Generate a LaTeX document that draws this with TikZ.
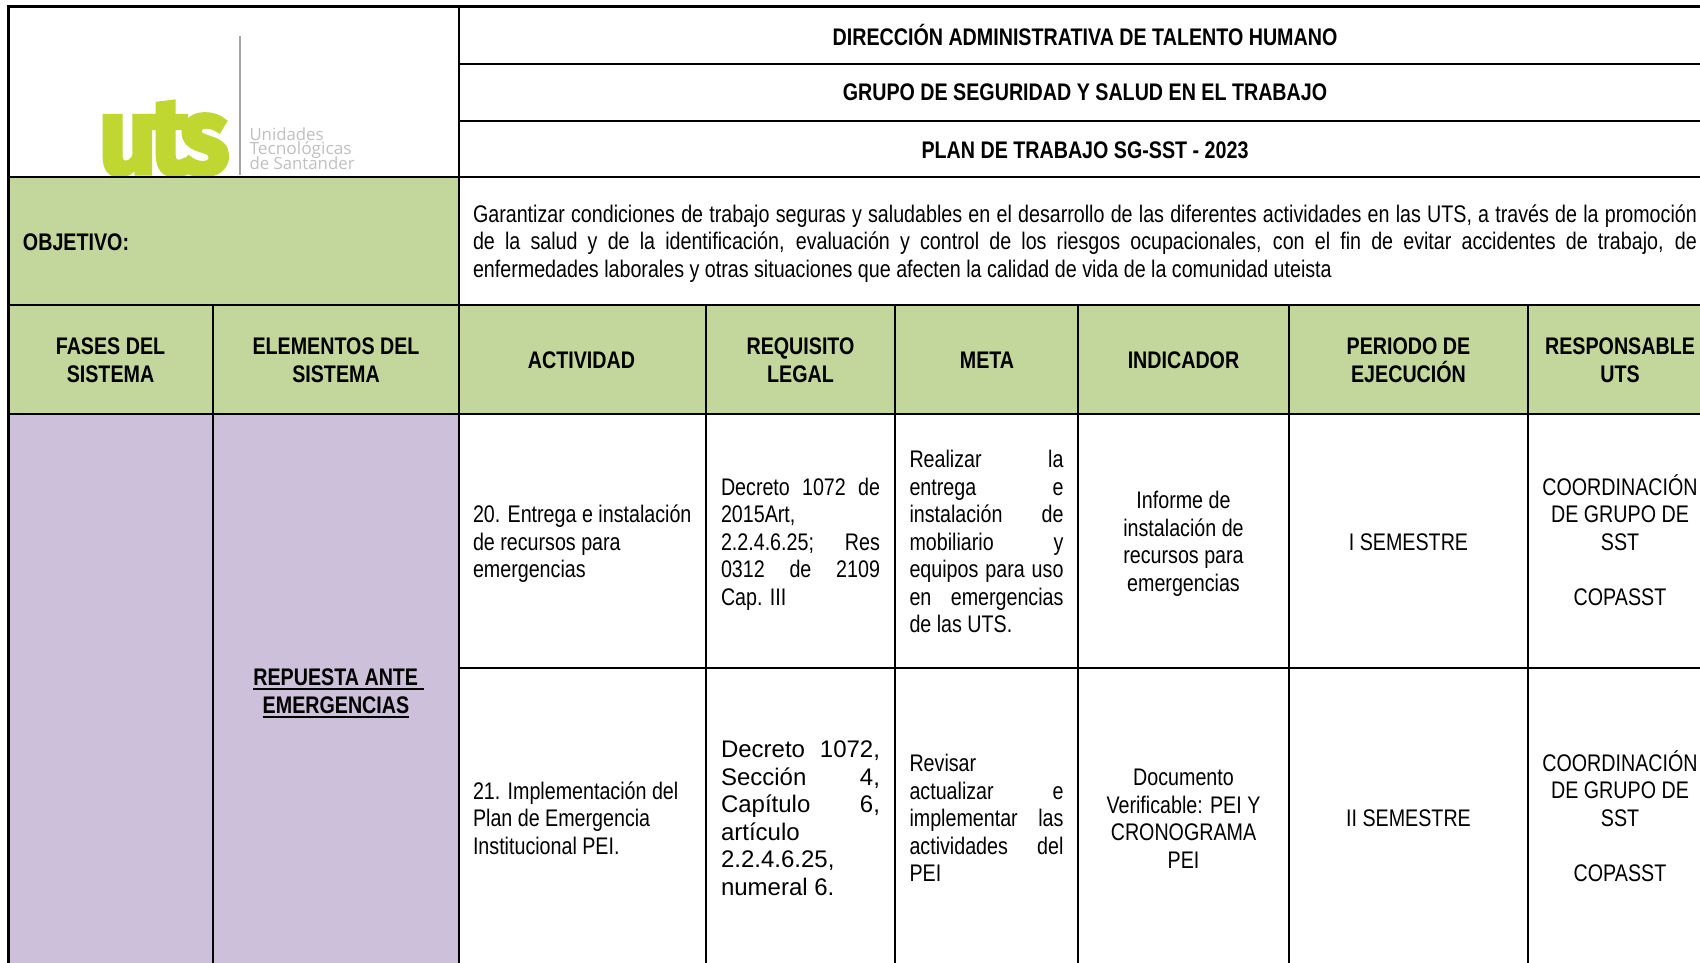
\documentclass[tikz,border=0pt]{standalone}
\usepackage{fontspec}
\setmainfont{Liberation Sans}[FakeStretch=0.82]
\newfontfamily\widef{Liberation Sans}
\newfontfamily\logof{Open Sans}
\newfontfamily\utsf{Fira Sans}[FakeBold=4]
\definecolor{hdrgreen}{HTML}{C3D69B}
\definecolor{lilac}{HTML}{CCC0DA}
\definecolor{utsgreen}{HTML}{BFD730}
\definecolor{logogray}{HTML}{C0C0C0}
\newlength{\jw}
\newcommand{\jl}[1]{\makebox[\jw][s]{#1}}
\newcommand{\ulx}[1]{\sbox0{#1}\rlap{\rule[-4.5pt]{\wd0}{2pt}}\box0}
\tikzset{
  base/.style={inner sep=0pt,outer sep=0pt,font=\fontsize{24}{27.5}\selectfont},
  cc/.style={base,align=center,anchor=center},
  ll/.style={base,align=left,anchor=west},
  hh/.style={base,align=center,anchor=center,font=\fontsize{24}{27.5}\selectfont\bfseries},
  logoname/.style={base,anchor=west,text=logogray,font=\fontsize{16.8}{14.5}\logof},
  rule/.style={line width=2pt,black,line cap=butt}
}
\begin{document}
\begin{tikzpicture}[x=1pt,y=-1pt]
\useasboundingbox (0,0) rectangle (1700,963);
\fill[white] (0,0) rectangle (1700,963);
% fills
\fill[hdrgreen] (9,177) rectangle (459,305);
\fill[hdrgreen] (9,305) rectangle (1700,414);
\fill[lilac] (9,414) rectangle (459,963);
% logo
\fill[logogray!85!black] (238.7,36) rectangle (240.5,175);
\node[base,anchor=base west,text=utsgreen,font=\fontsize{108}{108}\utsf\bfseries,xscale=0.93] (utsmark) at (99,173.5) {u\kern-7pt t\kern-9pt s};
\node[logoname] (uname1) at (249.5,134.5) {Unidades};
\node[logoname,xscale=1.03] (uname2) at (249.5,149.7) {Tecnológicas};
\node[logoname] (uname3) at (249.5,163.5) {de Santander};
% titles
\node[hh] (t1) at (1085,34.5) {DIRECCIÓN ADMINISTRATIVA DE TALENTO HUMANO};
\node[hh] (t2) at (1085,92.5) {GRUPO DE SEGURIDAD Y SALUD EN EL TRABAJO};
\node[hh] (t3) at (1085,150) {PLAN DE TRABAJO SG-SST - 2023};
\node[hh,anchor=west] (obj) at (23,242) {OBJETIVO:};
\setlength{\jw}{1224pt}
\node[ll] (objtext) at (473,243.5) {\jl{Garantizar condiciones de trabajo seguras y saludables en el desarrollo de las diferentes actividades en las UTS, a través de la promoción}\\
\jl{de la salud y de la identificación, evaluación y control de los riesgos ocupacionales, con el fin de evitar accidentes de trabajo, de}\\
enfermedades laborales y otras situaciones que afecten la calidad de vida de la comunidad uteista};
% header row
\node[hh] (h1) at (110.5,360) {FASES DEL\\SISTEMA};
\node[hh] (h2) at (336,360) {ELEMENTOS DEL\\SISTEMA};
\node[hh] (h3) at (581.5,360) {ACTIVIDAD};
\node[hh] (h4) at (800.5,360) {REQUISITO\\LEGAL};
\node[hh] (h5) at (987,360) {META};
\node[hh] (h6) at (1183.5,360) {INDICADOR};
\node[hh] (h7) at (1408.5,360) {PERIODO DE\\EJECUCIÓN};
\node[hh] (h8) at (1620,360) {RESPONSABLE\\UTS};
% element
\node[hh] (elem) at (336,693.5) {\hspace*{5pt}\ulx{REPUESTA ANTE }\\\ulx{EMERGENCIAS}};
% row 20
\node[ll] (a20) at (473,544) {20. Entrega e instalación\\de recursos para\\emergencias};
\setlength{\jw}{159pt}
\node[ll] (r20) at (721,544) {\jl{Decreto 1072 de}\\2015Art,\\\jl{2.2.4.6.25; Res}\\\jl{0312 de 2109}\\Cap. III};
\setlength{\jw}{154pt}
\node[ll] (m20) at (909.5,541.5) {\jl{Realizar \hfill la}\\\jl{entrega \hfill e}\\\jl{instalación \hfill de}\\\jl{mobiliario \hfill y}\\\jl{equipos para uso}\\\jl{en emergencias}\\de las UTS.};
\node[cc] (i20) at (1183.5,544) {Informe de\\instalación de\\recursos para\\emergencias};
\node[cc] (p20) at (1408.5,542) {I SEMESTRE};
\node[cc] (c20) at (1620,540) {COORDINACIÓN\\DE GRUPO DE\\SST\\[27.5pt]COPASST};
% row 21
\node[ll] (a21) at (473,818) {21. Implementación del\\Plan de Emergencia\\Institucional PEI.};
\setlength{\jw}{159pt}
\node[ll,font=\fontsize{24}{27.5}\widef] (r21) at (721,818) {\jl{Decreto 1072,}\\\jl{Sección \hfill 4,}\\\jl{Capítulo \hfill 6,}\\artículo\\2.2.4.6.25,\\numeral 6.};
\setlength{\jw}{154pt}
\node[ll] (m21) at (909.5,818) {Revisar\\\jl{actualizar \hfill e}\\\jl{implementar \hfill las}\\\jl{actividades \hfill del}\\PEI};
\node[cc] (i21) at (1183.5,818.5) {Documento\\Verificable: PEI Y\\CRONOGRAMA\\PEI};
\node[cc] (p21) at (1408.5,818) {II SEMESTRE};
\node[cc] (c21) at (1620,816) {COORDINACIÓN\\DE GRUPO DE\\SST\\[27.5pt]COPASST};
% rules
\draw[rule,line width=3pt] (8.7,7) -- (1700,7);
\draw[rule,line width=2.6pt] (8.7,5.5) -- (8.7,963);
\draw[rule] (8,177) -- (1700,177);
\draw[rule] (459,64) -- (1700,64);
\draw[rule] (459,121) -- (1700,121);
\draw[rule] (8,305) -- (1700,305);
\draw[rule] (8,414) -- (1700,414);
\draw[rule] (459,667.5) -- (1700,667.5);
\draw[rule] (459,7) -- (459,963);
\draw[rule] (213,305) -- (213,963);
\draw[rule] (706,305) -- (706,963);
\draw[rule] (895.2,305) -- (895.2,963);
\draw[rule] (1078,305) -- (1078,963);
\draw[rule] (1289,305) -- (1289,963);
\draw[rule] (1528,305) -- (1528,963);
\end{tikzpicture}
\end{document}
